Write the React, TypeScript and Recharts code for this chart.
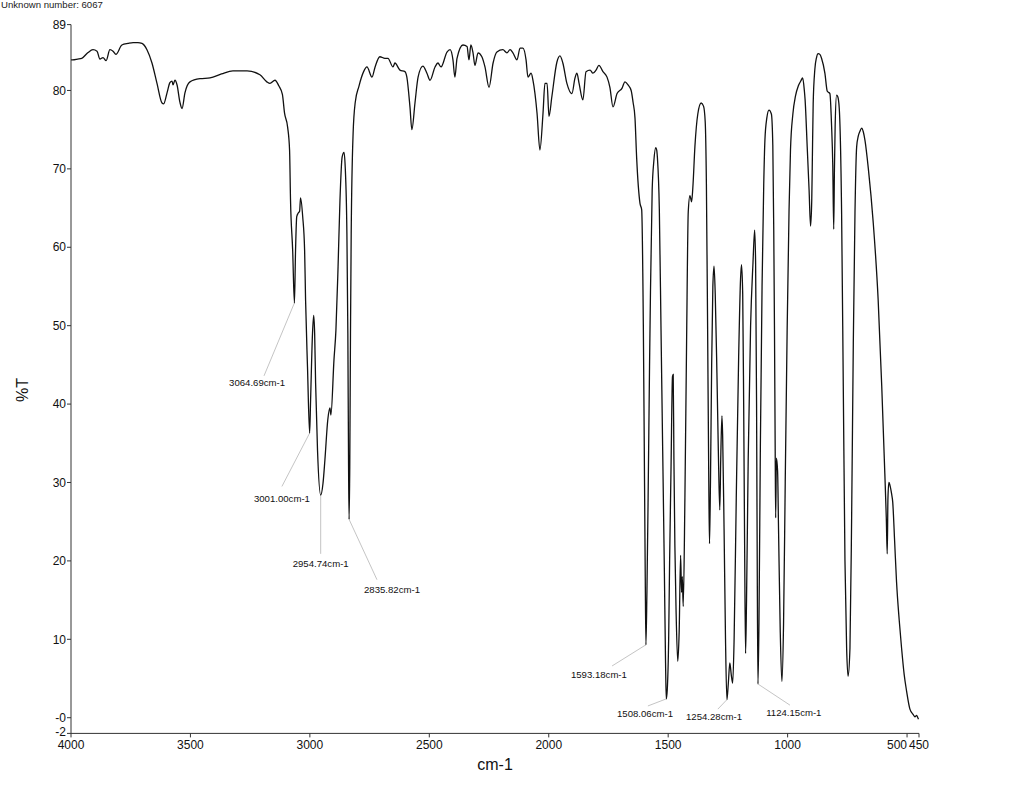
import React from "react";
import {
  LineChart,
  Line,
  XAxis,
  YAxis,
  ReferenceLine,
  ReferenceDot,
} from "recharts";

// IR spectrum, [wavenumber cm-1, %T]
const highRegion: [number, number][] = [
  [4000, 83.9], [3993, 83.9], [3972, 84.0], [3955, 84.1], [3930, 84.8], [3908, 85.2],
  [3891, 85.0], [3879, 84.0], [3866, 84.2], [3853, 83.8], [3837, 85.2], [3824, 85.0],
  [3812, 84.6], [3787, 85.8], [3761, 86.0], [3740, 86.1], [3720, 86.1], [3703, 86.0],
  [3682, 85.2], [3661, 83.5], [3640, 80.9], [3619, 78.4], [3612, 78.3], [3598, 79.7],
  [3586, 81.0], [3577, 81.2], [3573, 80.7], [3565, 81.3], [3556, 80.7], [3544, 78.5],
  [3535, 77.7], [3523, 79.7], [3502, 81.1], [3460, 81.5], [3418, 81.6], [3370, 82.1],
  [3322, 82.5], [3263, 82.5], [3209, 82.0], [3180, 81.1], [3167, 80.9], [3146, 81.3],
  [3130, 80.6], [3115, 79.5], [3106, 77.1], [3093, 75.3], [3085, 72.4], [3081, 66.0],
  [3072, 59.6], [3064.69, 52.9], [3060, 59.6], [3055, 63.9], [3048, 64.4], [3043, 64.6],
  [3039, 66.3], [3030, 63.9], [3022, 59.6], [3018, 53.3], [3010, 44.8], [3001, 36.3],
  [2997, 40.5], [2989, 49.0], [2984, 51.3], [2980, 49.0], [2976, 42.7], [2968, 34.1],
  [2954.74, 28.4], [2945, 29.9], [2937, 32.9], [2925, 38.0], [2916, 39.5], [2912, 38.6],
  [2899, 45.7], [2891, 49.4], [2882, 57.5], [2874, 66.0], [2865, 71.5], [2857, 72.1],
  [2852, 70.2], [2845, 61.8], [2841, 49.0], [2838, 32.0], [2835.82, 25.3], [2833, 32.0],
  [2830, 49.0], [2827, 61.8], [2819, 74.5], [2810, 78.5],
];

const midRegion: [number, number][] = [
  [2795, 80.5], [2775, 82.4], [2761, 83.0], [2740, 81.7], [2727, 83.0], [2707, 84.3],
  [2686, 84.1], [2673, 84.1], [2652, 83.0], [2644, 83.5], [2623, 82.6], [2602, 82.4],
  [2594, 81.7], [2581, 77.9], [2573, 75.0], [2560, 78.4], [2547, 81.7], [2527, 83.1],
  [2510, 82.2], [2497, 81.3], [2476, 83.0], [2464, 83.5], [2451, 83.0], [2426, 84.9],
  [2413, 85.2], [2401, 83.9], [2393, 81.7], [2384, 84.1], [2359, 85.8], [2342, 85.6],
  [2334, 83.9], [2326, 85.8], [2317, 84.8], [2309, 83.2], [2296, 84.8], [2280, 84.3],
  [2267, 83.0], [2250, 80.4], [2233, 83.5], [2217, 84.9], [2192, 85.2], [2175, 84.8],
  [2162, 85.2], [2150, 84.8], [2133, 83.9], [2120, 85.4], [2108, 85.4], [2095, 83.9],
  [2087, 81.7], [2074, 82.2], [2066, 81.3], [2049, 77.1], [2037, 72.4], [2024, 77.1],
  [2016, 80.9], [2007, 80.9], [1999, 76.7], [1987, 79.2], [1966, 83.6], [1953, 84.4],
  [1941, 83.5], [1924, 80.9], [1903, 79.6], [1890, 81.6], [1882, 82.2], [1873, 80.9],
  [1857, 78.8], [1844, 82.4], [1827, 82.6], [1815, 82.2], [1802, 82.6], [1790, 83.2],
  [1773, 82.4], [1756, 81.7], [1744, 80.4], [1731, 77.9], [1714, 79.6], [1693, 80.3],
  [1681, 81.1], [1668, 80.7],
];

const fingerprintRegion: [number, number][] = [
  [1655, 80.0], [1647, 78.5], [1639, 76.5], [1632, 71.4], [1618, 65.6], [1611, 64.8],
  [1604, 50.0], [1599, 30.0], [1596, 18.0], [1593.18, 9.3], [1589, 16.0], [1584, 28.0],
  [1578, 45.0], [1574, 54.6], [1567, 67.3], [1560, 71.0], [1552, 72.7], [1548, 72.4],
  [1545, 71.4], [1537, 64.8], [1530, 49.5], [1523, 34.1], [1516, 18.8], [1511, 7.0],
  [1508.06, 2.4], [1504, 3.5], [1498, 10.0], [1494, 20.0], [1488, 32.0], [1482, 43.5],
  [1479, 43.8], [1476, 33.0], [1472, 22.0], [1467, 13.7], [1460, 7.2], [1454, 11.0],
  [1448, 20.7], [1444, 16.0], [1441, 18.0], [1437, 14.2], [1430, 28.0], [1423, 47.8],
  [1416, 64.5], [1409, 66.6], [1402, 65.8], [1397, 67.5], [1388, 72.9], [1376, 77.0],
  [1362, 78.4], [1352, 78.0], [1345, 76.0], [1340, 68.0], [1335, 50.0], [1330, 30.0],
  [1327, 22.2], [1323, 30.0], [1318, 45.0], [1313, 55.0], [1308, 57.6], [1303, 54.0],
  [1296, 44.0], [1290, 34.0], [1284, 26.5], [1280, 33.0], [1275, 38.5], [1272, 36.0],
  [1266, 24.0], [1260, 10.0], [1254.28, 2.3], [1248, 4.5], [1242, 7.0], [1236, 5.5],
  [1230, 4.4], [1224, 10.0], [1215, 28.0], [1205, 46.0], [1197, 56.0], [1193, 57.8],
  [1188, 54.0], [1184, 40.0], [1180, 22.0], [1176, 8.2], [1172, 15.0], [1165, 33.0],
  [1155, 50.0], [1145, 58.0], [1138, 62.2], [1134, 58.0], [1130, 40.0], [1127, 18.0],
  [1124.15, 4.3], [1120, 12.0], [1114, 35.0], [1107, 55.0], [1100, 68.0], [1095, 73.7],
  [1087, 76.5], [1078, 77.5], [1068, 77.0], [1062, 73.0], [1058, 62.0], [1055, 49.5],
  [1052, 34.0], [1050, 25.5], [1047, 33.1], [1042, 31.5], [1038, 24.0], [1031, 11.2],
  [1024, 4.6], [1017, 12.0], [1010, 30.0], [1002, 49.4],
];

const lowRegion: [number, number][] = [
  [994, 64.8], [988, 72.4], [978, 77.0], [967, 79.3], [955, 80.6], [945, 81.2],
  [937, 81.6], [930, 80.0], [927, 78.9], [918, 72.8], [910, 67.2], [904, 62.7],
  [899, 66.0], [897, 70.0], [893, 78.3], [886, 82.7], [879, 84.2], [872, 84.7],
  [865, 84.6], [858, 84.1], [844, 82.2], [834, 79.9], [823, 79.6], [816, 75.5],
  [811, 70.5], [807, 62.3], [804, 70.0], [801, 75.5], [795, 79.4], [790, 79.2],
  [784, 77.8], [774, 64.4], [767, 42.3], [760, 20.1], [753, 8.9], [747, 5.3],
  [739, 8.9], [732, 25.6], [725, 47.8], [718, 64.4], [711, 72.8], [704, 74.2],
  [697, 74.8], [690, 75.2], [683, 74.7], [676, 73.6], [662, 70.0], [642, 63.3],
  [621, 53.3], [606, 42.3], [593, 31.1], [587, 25.6], [583, 20.9], [580, 28.0],
  [576, 30.0], [572, 29.7], [565, 28.6], [560, 27.5], [552, 22.5], [544, 17.3],
  [533, 12.5], [523, 8.9], [512, 5.5], [502, 3.4], [488, 1.1], [474, 0.4],
  [467, 0.1], [460, 0.3], [455, 0.0], [452, -0.2],
];

const xTicks = [4000, 3500, 3000, 2500, 2000, 1500, 1000, 500, 450];
const yTicks = [-2, 0, 10, 20, 30, 40, 50, 60, 70, 80, 88.4];
const yTickLabels = ["-2", "-0", "10", "20", "30", "40", "50", "60", "70", "80", "89"];

// peak annotations: peak position, leader end, label centre (data units)
const peakLabels = [
  "3064.69cm-1", "3001.00cm-1", "2954.74cm-1", "2835.82cm-1",
  "1593.18cm-1", "1508.06cm-1", "1254.28cm-1", "1124.15cm-1",
];
const peakW = [3064.69, 3001.0, 2954.74, 2835.82, 1593.18, 1508.06, 1254.28, 1124.15];
const peakT = [52.9, 36.3, 28.4, 25.3, 9.3, 2.4, 2.3, 4.3];
const leaderW = [3192, 3117, 2954.74, 2719, 1735, 1585, 1292, 990];
const leaderT = [43.6, 29.5, 20.9, 17.6, 6.6, 1.5, 1.1, 1.6];
const labelW = [3221, 3117, 2954.74, 2656, 1790, 1597, 1308, 974];
const labelT = [42.7, 28.0, 19.7, 16.4, 5.5, 0.5, 0.1, 0.6];

const data = [...highRegion, ...midRegion, ...fingerprintRegion, ...lowRegion].map(
  ([w, t]) => ({ w, t })
);

const FONT = "'Liberation Sans', Arial, sans-serif";

const XTick = (props: any) => {
  const { x, y, payload } = props;
  const v = payload.value;
  return (
    <text
      x={x}
      y={y}
      dy="0.75em"
      textAnchor={v === 500 ? "end" : "middle"}
      fontSize={12}
      fontFamily={FONT}
      fill="#111"
    >
      {String(v)}
    </text>
  );
};

const YTick = (props: any) => {
  const { x, y, payload } = props;
  const v = payload.value;
  const i = yTicks.indexOf(v);
  const txt = i >= 0 ? yTickLabels[i] : String(v);
  return (
    <text
      x={x}
      y={y}
      dy={v === -2 ? "0.2em" : "0.35em"}
      textAnchor="end"
      fontSize={12}
      fontFamily={FONT}
      fill="#111"
    >
      {txt}
    </text>
  );
};

export default function App() {
  return (
    <div
      style={{
        position: "absolute",
        left: 0,
        top: 0,
        width: 1024,
        height: 791,
        background: "#fff",
      }}
    >
      <div
        style={{
          position: "absolute",
          left: 1,
          top: -1,
          fontFamily: FONT,
          fontSize: 9.6,
          color: "#222",
        }}
      >
        Unknown number: 6067
      </div>
      <LineChart
        width={1024}
        height={791}
        data={data}
        margin={{ top: 24.6, right: 105, left: 0, bottom: 0 }}
      >
        <XAxis
          dataKey="w"
          type="number"
          domain={[450, 4000]}
          reversed
          ticks={xTicks}
          interval={0}
          tick={<XTick />}
          tickSize={4}
          tickMargin={3}
          height={57.6}
          axisLine={{ stroke: "#333", strokeWidth: 1 }}
          tickLine={{ stroke: "#333" }}
          allowDataOverflow
          label={(p: any) => {
            const vb = p.viewBox || {};
            return (
              <text
                x={vb.x + vb.width / 2}
                y={vb.y + 37}
                textAnchor="middle"
                fontSize={16}
                fontFamily={FONT}
                fill="#111"
              >
                cm-1
              </text>
            );
          }}
        />
        <YAxis
          type="number"
          domain={[-2, 88.4]}
          ticks={yTicks}
          interval={0}
          tick={<YTick />}
          tickSize={4}
          tickMargin={1}
          width={71}
          axisLine={{ stroke: "#333", strokeWidth: 1 }}
          tickLine={{ stroke: "#333" }}
          allowDataOverflow
          label={(p: any) => {
            const vb = p.viewBox || {};
            const cx = vb.x + 22;
            const cy = vb.y + vb.height / 2 + 11;
            return (
              <text
                x={cx}
                y={cy}
                transform={`rotate(-90, ${cx}, ${cy})`}
                textAnchor="middle"
                dominantBaseline="central"
                fontSize={16}
                fontFamily={FONT}
                fill="#111"
              >
                %T
              </text>
            );
          }}
        />
        {peakLabels.map((txt, i) => (
          <ReferenceLine
            key={"l" + i}
            segment={[
              { x: peakW[i], y: peakT[i] },
              { x: leaderW[i], y: leaderT[i] },
            ]}
            stroke="#aaa"
            strokeWidth={0.7}
            ifOverflow="visible"
          />
        ))}
        {peakLabels.map((txt, i) => (
          <ReferenceDot
            key={"d" + i}
            x={labelW[i]}
            y={labelT[i]}
            r={0}
            fill="none"
            stroke="none"
            ifOverflow="visible"
            label={{
              value: txt,
              position: "center",
              fontSize: 9.6,
              fontFamily: FONT,
              fill: "#111",
            }}
          />
        ))}
        <Line
          type="monotoneX"
          dataKey="t"
          stroke="#111"
          strokeWidth={1.3}
          dot={false}
          isAnimationActive={false}
        />
      </LineChart>
    </div>
  );
}
